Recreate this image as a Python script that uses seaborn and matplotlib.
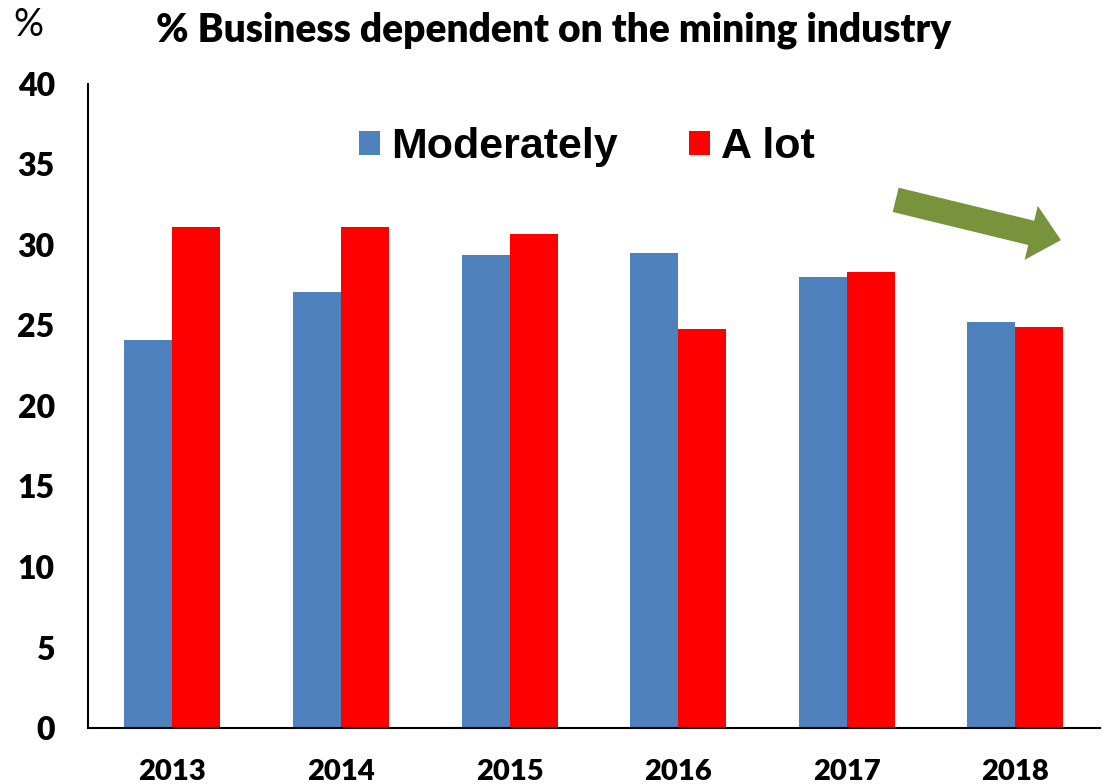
import pandas as pd
import seaborn as sns
import matplotlib.pyplot as plt

years = ['2013', '2014', '2015', '2016', '2017', '2018']
moderately = [24.1, 27.1, 29.4, 29.5, 28.0, 25.2]
a_lot = [31.1, 31.1, 30.7, 24.8, 28.3, 24.9]
series = ['Moderately', 'A lot']

df = pd.DataFrame({
    'year': years * 2,
    'value': moderately + a_lot,
    'series': [series[0]] * len(years) + [series[1]] * len(years),
})

sns.set_style('white')
plt.rcParams['font.family'] = ['Lato', 'DejaVu Sans']
plt.rcParams['text.color'] = 'black'
plt.rcParams['xtick.color'] = 'black'
plt.rcParams['ytick.color'] = 'black'

fig = plt.figure(figsize=(11.02, 7.84), dpi=100)
ax = fig.add_axes([0.0799, 0.0714, 0.918, 0.8216])

sns.barplot(
    data=df, x='year', y='value', hue='series',
    palette={'Moderately': '#4F81BD', 'A lot': '#FF0000'},
    width=0.57, saturation=1, linewidth=0, ax=ax, legend=True,
)

ax.set_ylim(0, 40)
ax.set_xlim(-0.5, 5.5)
ax.set_yticks(range(0, 41, 5))
ax.set_xlabel('')
ax.set_ylabel('')
ax.tick_params(axis='both', length=0)
ax.tick_params(axis='y', labelsize=23, pad=24)
ax.tick_params(axis='x', labelsize=21, pad=22)
for lab in ax.get_xticklabels() + ax.get_yticklabels():
    lab.set_fontweight('heavy')

for s in ['top', 'right']:
    ax.spines[s].set_visible(False)
for s in ['left', 'bottom']:
    ax.spines[s].set_color('black')
    ax.spines[s].set_linewidth(1.5)

leg = ax.legend(
    loc='center', bbox_to_anchor=(0.493, 0.902), ncol=2, frameon=False,
    prop={'family': 'Liberation Sans', 'weight': 'bold', 'size': 31},
    handlelength=0.49, handleheight=0.49, handletextpad=0.25, columnspacing=1.67,
)

# trend arrow (drawn in display space so it keeps its shape)
ax.annotate('', xy=(5.27, 30.3), xytext=(4.29, 32.8),
            arrowprops=dict(arrowstyle='simple,head_length=22,head_width=40,tail_width=18',
                            mutation_scale=1, color='#77933C', lw=0,
                            shrinkA=0, shrinkB=0))

fig.text(0.502, 0.962, '% Business dependent on the mining industry',
         ha='center', va='center', fontsize=28, fontweight='heavy')
fig.text(0.026, 0.968, '%', ha='center', va='center', fontsize=27)

fig.savefig('out.png', dpi=100)
